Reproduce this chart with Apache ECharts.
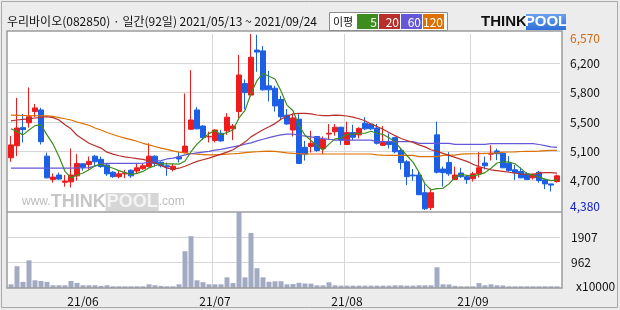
<!DOCTYPE html>
<html><head><meta charset="utf-8">
<script src="https://cdn.jsdelivr.net/npm/echarts@6/dist/echarts.min.js"></script>
<style>html,body{margin:0;padding:0;background:#ececec}#c{width:620px;height:310px}</style>
</head><body><div id="c"></div>
<script>
const titleText = '우리바이오(082850) · 일간(92일) 2021/05/13 ~ 2021/09/24';
const dates = [
'21/05/13','21/05/14','21/05/17','21/05/18','21/05/20','21/05/21','21/05/24','21/05/25','21/05/26','21/05/27','21/05/28','21/05/31',
'21/06/01','21/06/02','21/06/03','21/06/04','21/06/07','21/06/08','21/06/09','21/06/10','21/06/11','21/06/14','21/06/15','21/06/16','21/06/17','21/06/18','21/06/21','21/06/22','21/06/23','21/06/24','21/06/25','21/06/28','21/06/29','21/06/30',
'21/07/01','21/07/02','21/07/05','21/07/06','21/07/07','21/07/08','21/07/09','21/07/12','21/07/13','21/07/14','21/07/15','21/07/16','21/07/19','21/07/20','21/07/21','21/07/22','21/07/23','21/07/26','21/07/27','21/07/28','21/07/29','21/07/30',
'21/08/02','21/08/03','21/08/04','21/08/05','21/08/06','21/08/09','21/08/10','21/08/11','21/08/12','21/08/13','21/08/17','21/08/18','21/08/19','21/08/20','21/08/23','21/08/24','21/08/25','21/08/26','21/08/27','21/08/30','21/08/31',
'21/09/01','21/09/02','21/09/03','21/09/06','21/09/07','21/09/08','21/09/09','21/09/10','21/09/13','21/09/14','21/09/15','21/09/16','21/09/17','21/09/23','21/09/24'];

const open = [5030,5180,5405,5465,5605,5625,5050,4760,4815,4725,4730,4805,4955,4945,5050,5010,4940,4850,4795,4830,
4875,4865,4895,4920,5050,4975,4930,4885,5040,5095,5385,5625,5425,5290,5245,5335,5365,5390,5605,5955,
5810,6370,6360,5925,5895,5755,5560,5375,5510,5160,5170,5295,5145,5325,5355,5410,5195,5345,5315,5460,
5450,5400,5185,5230,5280,5120,4980,4815,4815,4595,4410,5315,4890,4970,4760,4840,4795,4770,4830,4965,
5075,5115,5085,4960,4880,4860,4830,4780,4850,4755,4705,4735];
const close = [5190,5400,5380,5540,5650,5230,4780,4790,4765,4740,4815,4960,4910,4985,4980,4920,4830,4795,4830,4840,
4805,4905,4930,5050,4960,4930,4915,4925,5015,5175,5500,5390,5280,5295,5375,5240,5535,5425,6060,5840,
6280,6345,5875,5875,5675,5540,5450,5525,4960,5075,5210,5120,5260,5335,5410,5250,5345,5285,5395,5390,
5390,5210,5220,5195,5105,4970,4795,4805,4570,4395,4595,4850,4845,4830,4815,4795,4760,4830,4905,4930,
5085,5080,4905,4870,4845,4780,4760,4825,4745,4705,4690,4805];
const low = [4980,5050,5220,5405,5535,5195,4775,4720,4755,4670,4660,4745,4870,4880,4930,4905,4805,4780,4775,4775,
4780,4835,4880,4910,4920,4910,4805,4860,4970,5085,5375,5385,5250,5220,5220,5230,5315,5250,5520,5635,
5790,6100,5865,5730,5605,5510,5440,5295,4955,4995,5095,5105,5075,5250,5305,5190,5190,5250,5270,5375,
5375,5195,5175,5145,5085,4885,4690,4745,4565,4380,4380,4835,4670,4805,4755,4780,4705,4735,4785,4885,
4995,5000,4900,4855,4755,4775,4755,4760,4720,4640,4610,4720];
const high = [5300,5775,5575,5905,5700,5650,5095,4835,4845,4815,5145,5075,4960,5045,5065,5045,4950,4865,4865,4880,
4885,4955,4960,5210,5060,4985,4970,4955,5100,5830,6120,5660,5435,5355,5385,5375,5585,5450,6310,6005,
6570,6560,6420,6110,5925,5800,5635,5585,5575,5240,5365,5300,5295,5450,5450,5415,5480,5440,5410,5535,
5460,5450,5425,5335,5290,5145,5000,4890,4855,4700,4650,5480,4920,5100,4920,4905,4815,4855,5100,5045,
5185,5145,5100,5050,4940,4910,4850,4835,4865,4760,4705,4820];
const volume = [155,830,245,1050,305,280,245,120,120,120,280,205,120,120,120,95,120,80,80,80,
80,80,80,155,120,95,80,80,155,1390,1950,305,235,155,155,155,415,200,2852,415,
2070,755,415,250,268,270,155,165,210,185,180,115,115,230,118,105,105,105,105,105,
105,105,105,105,118,118,105,105,118,118,118,790,155,150,95,80,80,80,200,120,
155,118,110,80,80,80,80,80,80,80,80,80];
const ma5 = [5390,5355,5315,5375,5430,5440,5315,5200,5045,4860,4780,4815,4840,4880,4930,4950,4925,4900,4870,4845,
4820,4835,4860,4905,4930,4955,4955,4955,4950,4990,5105,5200,5270,5330,5370,5315,5345,5375,5525,5620,
5830,5990,6080,6045,6010,5860,5685,5615,5430,5310,5245,5180,5125,5200,5265,5275,5320,5325,5335,5335,
5360,5335,5320,5280,5225,5140,5055,4975,4850,4705,4630,4645,4650,4705,4785,4825,4810,4805,4820,4845,
4900,4965,4980,4975,4955,4895,4830,4815,4790,4765,4745,4755];
const ma20 = [5490,5500,5508,5515,5525,5533,5540,5530,5500,5440,5390,5310,5260,5210,5180,5150,5100,5075,5055,5040,
5030,5020,5010,4990,4965,4935,4900,4890,4900,4925,4955,4985,5005,5025,5050,5075,5100,5130,5175,5225,
5290,5335,5378,5415,5455,5510,5550,5575,5583,5583,5575,5562,5555,5555,5560,5558,5550,5535,5515,5490,
5450,5420,5385,5345,5305,5270,5245,5220,5190,5165,5130,5110,5085,5060,5035,5010,4985,4950,4920,4900,
4880,4870,4860,4850,4840,4825,4825,4825,4838,4845,4845,4838];
const ma60 = [4900,4900,4900,4900,4900,4900,4900,4900,4900,4900,4900,4905,4905,4907,4925,4955,4960,4960,4960,4960,
4960,4960,4962,4975,4990,4995,5015,5025,5045,5065,5080,5090,5100,5110,5125,5135,5150,5165,5180,5200,
5215,5240,5260,5280,5300,5315,5325,5325,5310,5300,5290,5280,5268,5260,5250,5250,5250,5250,5250,5250,
5250,5230,5230,5230,5230,5230,5230,5230,5210,5210,5210,5210,5210,5210,5197,5197,5197,5197,5197,5197,
5205,5205,5205,5205,5205,5205,5205,5205,5195,5180,5165,5160];
const ma120 = [5560,5558,5556,5555,5553,5552,5550,5545,5530,5515,5500,5475,5455,5435,5400,5375,5345,5320,5295,5275,
5255,5235,5210,5190,5170,5150,5135,5115,5100,5090,5080,5075,5070,5065,5065,5070,5075,5080,5085,5095,
5100,5105,5110,5112,5110,5100,5090,5085,5080,5078,5077,5077,5077,5077,5077,5077,5077,5077,5077,5077,
5077,5065,5062,5060,5060,5060,5060,5060,5045,5044,5044,5044,5060,5062,5062,5075,5078,5080,5082,5085,
5087,5090,5100,5102,5104,5108,5110,5110,5112,5120,5122,5123];
const maNames = ['5','20','60','120'];
const priceMin = 4380, priceMax = 6570, priceStep = 365;
const volMin = 17, volMax = 2852, volStep = 945;

const FONT = "'Noto Sans CJK KR','Noto Sans',sans-serif";
const C_UP = '#ee1c1c', C_DN = '#1c5fe4';
const C_MA = ['#3c8c1e', '#b8302c', '#6458d8', '#dc7000'];
const monthStart = new Set();
dates.forEach((d, i) => { if (i > 0 && d.slice(3,5) !== dates[i-1].slice(3,5)) monthStart.add(i); });
const candle = dates.map((d, i) => [open[i], close[i], low[i], high[i]]);
const fmt = v => v.toLocaleString('en-US');

const chart = echarts.init(document.getElementById('c'), null, {renderer: 'canvas'});
const gridLine = {color: '#d6d6d6', width: 1};
const option = {
  animation: false,
  backgroundColor: '#ececec',
  textStyle: {fontFamily: FONT},
  title: {text: titleText, left: 7, top: 14, padding: 0,
    textStyle: {fontSize: 12, fontWeight: 'normal', color: '#111', fontFamily: FONT, lineHeight: 14}},
  grid: [
    {left: 8, top: 34, width: 552, height: 176},
    {left: 8, top: 212, width: 552, height: 76}
  ],
  xAxis: [
    {type: 'category', gridIndex: 0, data: dates, boundaryGap: true,
      axisLine: {show: false}, axisTick: {show: false}, axisLabel: {show: false},
      splitLine: {show: true, interval: i => monthStart.has(i), showMinLine: false, showMaxLine: false, lineStyle: gridLine}},
    {type: 'category', gridIndex: 1, data: dates, boundaryGap: true,
      axisLine: {show: false}, axisTick: {show: false},
      axisLabel: {show: true, interval: i => monthStart.has(i), formatter: v => v.slice(0,5),
        margin: 7, color: '#111', fontSize: 12, fontFamily: FONT},
      splitLine: {show: true, interval: i => monthStart.has(i), showMinLine: false, showMaxLine: false, lineStyle: gridLine}}
  ],
  yAxis: [
    {type: 'value', gridIndex: 0, position: 'right', min: priceMin, max: priceMax, interval: priceStep,
      axisLine: {show: false}, axisTick: {show: false},
      splitLine: {show: true, showMinLine: false, showMaxLine: false, lineStyle: gridLine},
      axisLabel: {margin: 10, fontSize: 12, color: '#111', fontFamily: FONT,
        formatter: v => v === priceMax ? '{mx|' + fmt(v) + '}' : (v === priceMin ? '{mn|' + fmt(v) + '}' : fmt(Math.round(v / 100) * 100)),
        rich: {mx: {color: '#d06a10', fontSize: 12, fontFamily: FONT, padding: [8, 0, 0, 0]},
               mn: {color: '#1020d0', fontSize: 12, fontFamily: FONT, padding: [0, 0, 8, 0]}}}},
    {type: 'value', gridIndex: 1, position: 'right', min: volMin, max: volMax, interval: volStep,
      axisLine: {show: false}, axisTick: {show: false},
      splitLine: {show: true, showMinLine: false, showMaxLine: false, lineStyle: gridLine},
      axisLabel: {margin: 11, fontSize: 12, color: '#111', fontFamily: FONT, showMaxLabel: false,
        formatter: v => v === volMin ? '{u|x10000}' : String(v),
        rich: {u: {fontSize: 12, fontFamily: FONT, color: '#111', padding: [0, 0, 4, 5]}}}}
  ],
  graphic: [
    {type: 'rect', z: -5, silent: true, shape: {x: 7, y: 31, width: 555, height: 257}, style: {fill: '#ffffff'}},
    {type: 'text', z: 1, silent: true, style: {x: 22, y: 202, verticalAlign: 'middle',
      text: '{a|www.}{b|THINK}{c|POOL}{d|.com}',
      rich: {a: {fontSize: 12, fontFamily: 'Liberation Sans', fill: '#bdbdbd'},
             b: {fontSize: 18, fontWeight: 'bold', fontFamily: 'Liberation Sans', fill: '#c6c6c6'},
             c: {fontSize: 18, fontWeight: 'bold', fontFamily: 'Liberation Sans', fill: '#f4f4f4', backgroundColor: '#d6d6d6', padding: [0, 1, 0, 1]},
             d: {fontSize: 12, fontFamily: 'Liberation Sans', fill: '#bdbdbd'}}}},
    {type: 'rect', z: 50, silent: true, shape: {x: 7, y: 31, width: 555, height: 257}, style: {fill: null, stroke: '#9c9c9c', lineWidth: 1.5}},
    {type: 'line', z: 50, silent: true, shape: {x1: 7, y1: 212, x2: 562, y2: 212}, style: {stroke: '#9c9c9c', lineWidth: 1.5}},
    {type: 'rect', z: 50, silent: true, shape: {x: 1.5, y: 1.5, width: 616, height: 306}, style: {fill: null, stroke: '#a8a8a8', lineWidth: 1}},
    {type: 'rect', z: 50, silent: true, shape: {x: 329.5, y: 12.5, width: 118, height: 18}, style: {fill: '#ffffff', stroke: '#8c8c8c', lineWidth: 1}},
    {type: 'text', z: 51, silent: true, style: {x: 333, y: 22, text: '이평', verticalAlign: 'middle', font: '11px ' + FONT, fill: '#111'}},
    ...maNames.map((n, k) => ({type: 'rect', z: 51, silent: true, shape: {x: 357 + 22 * k, y: 14, width: 21, height: 15}, style: {fill: C_MA[k]}})),
    ...maNames.map((n, k) => ({type: 'text', z: 52, silent: true, style: {x: 377 + 22 * k, y: 22, text: n, align: 'right', verticalAlign: 'middle', font: '12px ' + FONT, fill: '#ffffff'}})),
    {type: 'text', z: 51, silent: true, style: {x: 481, y: 22, text: 'THINK', verticalAlign: 'middle', font: 'bold 15px "Liberation Sans"', fill: '#111'}},
    {type: 'rect', z: 51, silent: true, shape: {x: 526, y: 14, width: 40, height: 16}, style: {fill: new echarts.graphic.LinearGradient(0, 0, 0, 1, [{offset: 0, color: '#6aa0f0'}, {offset: 1, color: '#2f6fd8'}])}},
    {type: 'text', z: 52, silent: true, style: {x: 546, y: 22, text: 'POOL', align: 'center', verticalAlign: 'middle', font: 'bold 15px "Liberation Sans"', fill: '#ffffff'}}
  ],
  series: [
    {name: 'MA120', type: 'line', xAxisIndex: 0, yAxisIndex: 0, data: ma120, symbol: 'none', lineStyle: {color: C_MA[3], width: 1.2}},
    {name: 'MA60', type: 'line', xAxisIndex: 0, yAxisIndex: 0, data: ma60, symbol: 'none', lineStyle: {color: C_MA[2], width: 1.2}},
    {name: 'MA20', type: 'line', xAxisIndex: 0, yAxisIndex: 0, data: ma20, symbol: 'none', lineStyle: {color: C_MA[1], width: 1.2}},
    {name: 'MA5', type: 'line', xAxisIndex: 0, yAxisIndex: 0, data: ma5, symbol: 'none', lineStyle: {color: C_MA[0], width: 1.2}},
    {name: '일간', type: 'candlestick', xAxisIndex: 0, yAxisIndex: 0, data: candle, barWidth: 5,
      itemStyle: {color: C_UP, color0: C_DN, borderColor: C_UP, borderColor0: C_DN, borderColorDoji: C_UP, borderWidth: 1}},
    {name: '거래량', type: 'bar', xAxisIndex: 1, yAxisIndex: 1, data: volume, barWidth: 5,
      itemStyle: {color: '#a3abc3'}}
  ]
};
chart.setOption(option);
</script>
</body></html>
